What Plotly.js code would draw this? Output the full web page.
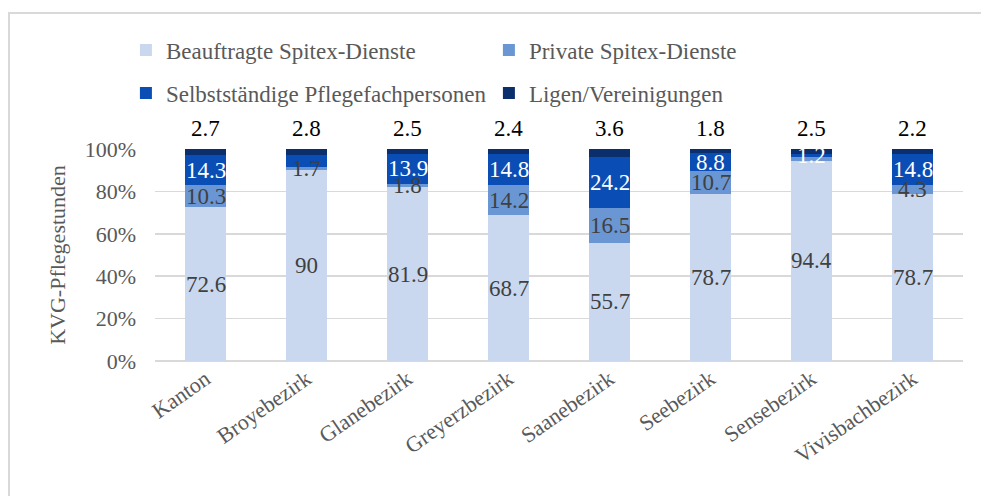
<!DOCTYPE html>
<html>
<head>
<meta charset="utf-8">
<script src="https://cdn.plot.ly/plotly-3.0.1.min.js"></script>
<style>
html,body{margin:0;padding:0;background:#fff;}
#wrap{position:relative;width:981px;height:496px;overflow:hidden;}
#chart{position:absolute;left:0;top:0;width:981px;height:496px;}
#frame{position:absolute;left:8px;top:12px;width:990px;height:500px;border-top:2px solid #D9D9D9;border-left:2px solid #D9D9D9;pointer-events:none;}
</style>
</head>
<body>
<div id="wrap"><div id="chart"></div><div id="frame"></div></div>
<script>
const categories = ['Kanton','Broyebezirk','Glanebezirk','Greyerzbezirk','Saanebezirk','Seebezirk','Sensebezirk','Vivisbachbezirk'];
const beauftragte = [72.6, 90, 81.9, 68.7, 55.7, 78.7, 94.4, 78.7];
const privat = [10.3, 1.7, 1.8, 14.2, 16.5, 10.7, 1.9, 4.3];
const selbst = [14.3, 5.5, 13.9, 14.8, 24.2, 8.8, 1.2, 14.8];
const ligen = [2.7, 2.8, 2.5, 2.4, 3.6, 1.8, 2.5, 2.2];
// which segment values carry a visible label in the original
const privatShown = [true, true, true, true, true, true, false, true];
const selbstShown = [true, false, true, true, true, true, true, true];
const seriesNames = ['Beauftragte Spitex-Dienste','Private Spitex-Dienste','Selbstständige Pflegefachpersonen','Ligen/Vereinigungen'];
const yTicks = [0, 20, 40, 60, 80, 100];
const yTickText = ['0%','20%','40%','60%','80%','100%'];

const FONT = 'Liberation Serif';
const fmt = v => String(v);

const common = { type: 'bar', x: categories, hoverinfo: 'skip', cliponaxis: false };

const traces = [
  Object.assign({}, common, { name: seriesNames[0], y: beauftragte, marker: {color: '#C9D8EE'}, legend: 'legend' }),
  Object.assign({}, common, { name: seriesNames[1], y: privat, marker: {color: '#6A97D3'}, legend: 'legend' }),
  Object.assign({}, common, { name: seriesNames[2], y: selbst, marker: {color: '#0A4DB5'}, legend: 'legend2' }),
  Object.assign({}, common, { name: seriesNames[3], y: ligen, marker: {color: '#0B2F6C'}, legend: 'legend2' })
];

// data labels as annotations so they sit above every bar (as in the original)
const annotations = [];
categories.forEach((c, i) => {
  const b1 = beauftragte[i];
  const p1 = b1 + privat[i];
  const s1 = p1 + selbst[i];
  annotations.push({x: c, y: b1 / 2, text: fmt(beauftragte[i]), color: '#404040'});
  if (privatShown[i]) annotations.push({x: c, y: (b1 + p1) / 2, text: fmt(privat[i]), color: '#404040'});
  if (selbstShown[i]) annotations.push({x: c, y: (p1 + s1) / 2, text: fmt(selbst[i]), color: '#FFFFFF'});
  annotations.push({x: c, y: 100, text: fmt(ligen[i]), color: '#000000', yshift: 21});
});
const annots = annotations.map(a => ({
  x: a.x, y: a.y, xref: 'x', yref: 'y', text: a.text, showarrow: false,
  yanchor: 'middle', xanchor: 'center', yshift: a.yshift || 0,
  font: {family: FONT, size: 23, color: a.color}
}));

const legendBase = {
  orientation: 'h', xanchor: 'left', yanchor: 'middle', x: -0.036,
  entrywidth: 318, entrywidthmode: 'pixels', bgcolor: 'rgba(0,0,0,0)',
  font: {family: FONT, size: 23, color: '#595959'}, traceorder: 'normal'
};

const layout = {
  width: 981, height: 496,
  margin: {l: 155, r: 18, t: 149, b: 135},
  paper_bgcolor: '#FFFFFF', plot_bgcolor: '#FFFFFF',
  barmode: 'stack', bargap: 0.6,
  font: {family: FONT, color: '#595959'},
  showlegend: true,
  legend: Object.assign({}, legendBase, {y: 1.467}),
  legend2: Object.assign({}, legendBase, {y: 1.264}),
  xaxis: {
    type: 'category', tickangle: -35, showgrid: false, zeroline: false, showline: false,
    ticks: '', tickfont: {family: FONT, size: 22, color: '#595959'}, automargin: false
  },
  yaxis: {
    range: [0, 100], tickvals: yTicks, ticktext: yTickText, showgrid: true,
    gridcolor: '#D9D9D9', gridwidth: 1.5, zeroline: true, zerolinecolor: '#D9D9D9', zerolinewidth: 1.5,
    showline: false, ticks: '', ticklabelstandoff: 18,
    tickfont: {family: FONT, size: 22, color: '#595959'}, automargin: false,
    title: {text: 'KVG-Pflegestunden', font: {family: FONT, size: 22, color: '#595959'}, standoff: 12}
  },
  annotations: annots
};

Plotly.newPlot('chart', traces, layout, {displayModeBar: false, staticPlot: true});
</script>
</body>
</html>
